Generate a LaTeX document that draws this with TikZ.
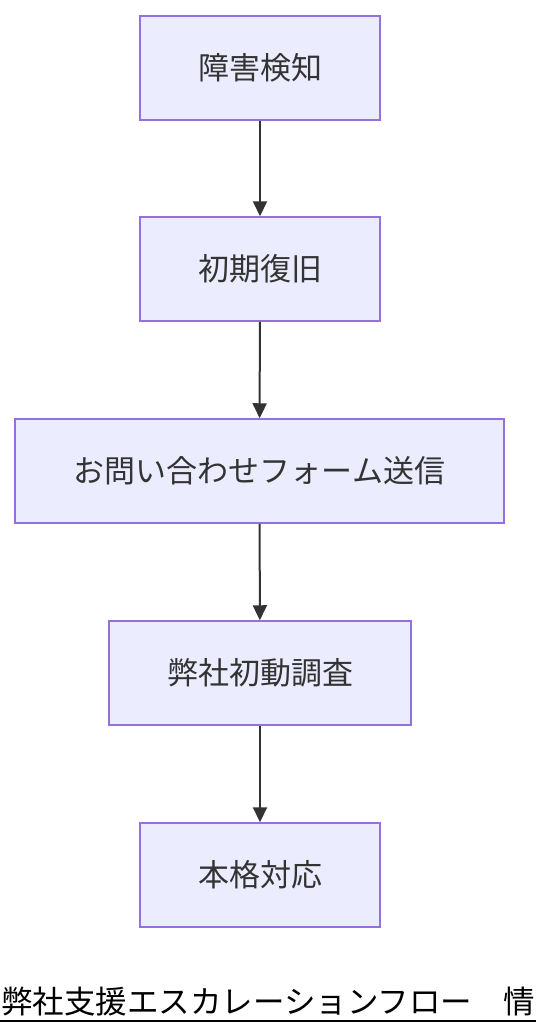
\documentclass[tikz,border=0pt]{standalone}
\usepackage{fontspec}
\setmainfont{Noto Sans CJK JP}
\usepackage{tikz}
\usetikzlibrary{arrows.meta}
\definecolor{boxfill}{HTML}{ECECFF}
\definecolor{boxline}{HTML}{9370DB}
\definecolor{textgray}{HTML}{333333}

\begin{document}
\begin{tikzpicture}[x=1pt,y=-1pt,
	every node/.style={inner sep=0pt},
	stepbox/.style={draw=boxline,line width=1.5pt,fill=boxfill,text=textgray,
		minimum height=104pt,font=\fontsize{31pt}{36pt}\selectfont},
	flow/.style={draw=textgray,line width=2pt,-{Triangle[length=15pt,width=14pt]}}]
		\useasboundingbox (0,0) rectangle (536,1036);
		\clip (0,0) rectangle (536,1036);

		\path (260,68) node[stepbox,minimum width=240pt] (detect) {障害検知}
		(260,269) node[stepbox,minimum width=240pt] (restore) {初期復旧}
		(259.5,471) node[stepbox,minimum width=489pt] (form) {お問い合わせフォーム送信}
		(260,673) node[stepbox,minimum width=302pt] (survey) {弊社初動調査}
		(260,875) node[stepbox,minimum width=240pt] (respond) {本格対応};

		\draw[flow] (detect) -- (restore);
		\draw[flow] (restore) -- (form);
		\draw[flow] (form) -- (survey);
		\draw[flow] (survey) -- (respond);

		% title, cut at the right edge
		\node[anchor=base west,font=\fontsize{31.5pt}{36pt}\selectfont] (title) at (1,1013)
			{弊社支援エスカレーションフロー　情};
		\draw[line width=2pt] (0,1021) -- (536,1021);
	\end{tikzpicture}
\end{document}
